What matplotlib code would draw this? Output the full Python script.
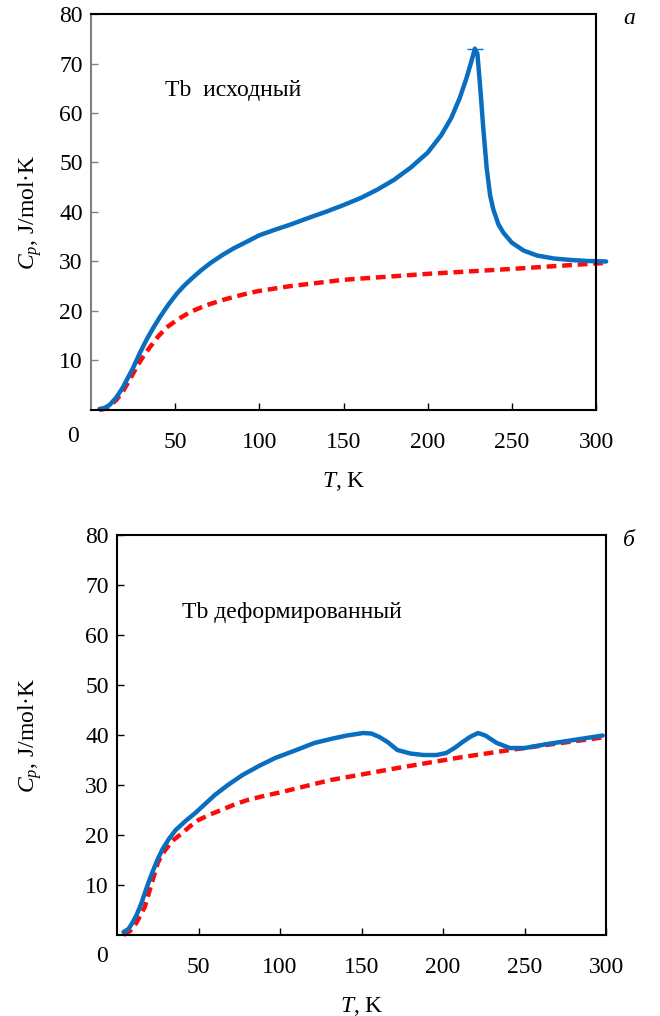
import matplotlib
matplotlib.use("Agg")
import matplotlib.pyplot as plt

plt.rcParams["font.family"] = ["Liberation Serif", "DejaVu Serif"]
plt.rcParams["mathtext.fontset"] = "custom"
plt.rcParams["mathtext.rm"] = "Liberation Serif"
plt.rcParams["mathtext.it"] = "Liberation Serif:italic"

# Panel a: Tb initial
t_a_blue = [5, 8, 11, 15, 19, 25, 29, 33, 37, 41, 46, 51, 55, 59, 65, 71, 78, 85, 92,
            100, 110, 118, 130, 140, 150, 160, 170, 180, 190, 200, 208, 214, 219, 223,
            226, 228, 229.5, 231, 233, 235, 237, 239, 242, 245, 250, 257, 265, 275,
            285, 295, 306]
cp_a_blue = [0.2, 0.4, 1.0, 2.5, 4.6, 8.5, 11.5, 14.2, 16.6, 18.8, 21.3, 23.5, 25.0,
             26.3, 28.1, 29.7, 31.3, 32.7, 33.9, 35.3, 36.5, 37.4, 38.9, 40.1, 41.4,
             42.8, 44.5, 46.5, 49.0, 52.0, 55.5, 59.0, 63.0, 67.0, 70.5, 73.0, 72.0,
             66.0, 57.0, 49.0, 43.5, 40.5, 37.5, 35.8, 33.8, 32.2, 31.2, 30.6, 30.3,
             30.1, 30.0]
t_a_red = [5, 8, 11, 15, 19, 23, 27, 31, 35, 40, 45, 52, 59, 68, 79, 90, 99, 118, 150,
           200, 250, 300, 306]
cp_a_red = [0.0, 0.2, 0.8, 2.0, 3.8, 6.1, 8.6, 10.8, 12.7, 14.9, 16.7, 18.4, 19.8,
            21.1, 22.3, 23.3, 24.0, 25.0, 26.3, 27.5, 28.5, 29.6, 29.7]

# Panel б: Tb deformed
t_b_blue = [4, 7, 9, 12, 15, 18, 21.5, 25, 28, 32, 36, 42, 48, 54, 60, 68, 77, 87, 97,
            110, 121, 131, 141, 151, 156, 161, 166, 172, 180, 188, 196, 202, 207, 212,
            217, 221.5, 226, 233, 241, 250, 264, 280, 298]
cp_b_blue = [0.6, 1.2, 2.2, 4.0, 6.4, 9.3, 12.4, 15.2, 17.2, 19.3, 21.0, 22.8, 24.4,
             26.2, 28.0, 30.0, 32.0, 33.8, 35.4, 37.0, 38.4, 39.2, 39.9, 40.4, 40.3,
             39.6, 38.6, 37.0, 36.3, 36.0, 36.0, 36.4, 37.4, 38.6, 39.7, 40.4, 39.9,
             38.4, 37.4, 37.4, 38.2, 39.0, 39.9]
t_b_red = [4, 8, 12, 17, 21, 25, 28, 31, 35, 40, 45, 50, 57, 64, 72, 80, 90, 101, 121,
           131, 150, 172, 212, 241, 270, 300]
cp_b_red = [0.0, 0.8, 2.5, 5.6, 10.0, 14.4, 16.3, 17.6, 19.1, 20.4, 21.8, 23.0, 24.1,
            25.0, 26.1, 27.0, 27.8, 28.6, 30.2, 31.0, 32.1, 33.4, 35.6, 37.0, 38.3,
            39.6]

yticks = [10, 20, 30, 40, 50, 60, 70, 80]
xticks = [50, 100, 150, 200, 250, 300]

BLUE = "#0A6EC0"
RED = "#FF0A0A"
FS = 17

fig = plt.figure(figsize=(6.6, 10.16), dpi=100)
ax_a = fig.add_axes([0.1379, 0.5965, 0.7652, 0.3897])
ax_b = fig.add_axes([0.1773, 0.0797, 0.7409, 0.3937])


def style_axes(ax, left_color, ylabel_x):
    ax.set_xlim(0, 300)
    ax.set_ylim(0, 80)
    ax.set_xticks(xticks)
    ax.set_yticks(yticks)
    ax.tick_params(direction="in", labelsize=FS, length=5, width=1)
    ax.tick_params(axis="x", pad=16)
    ax.tick_params(axis="y", pad=6, color=left_color)
    for name in ["top", "right", "bottom"]:
        ax.spines[name].set_linewidth(1.5)
        ax.spines[name].set_color("black")
    ax.spines["left"].set_linewidth(1.5)
    ax.spines["left"].set_color(left_color)
    ax.set_xlabel("$\\mathit{T}$, K", fontsize=FS, labelpad=12)
    ax.set_ylabel("$\\mathit{C_p}$, J/mol·K", fontsize=FS)
    ax.yaxis.set_label_coords(ylabel_x, 0.5)


style_axes(ax_a, "#808080", (44 - 91) / 505)
style_axes(ax_b, "black", (44 - 117) / 489)

ax_a.plot(t_a_red, cp_a_red, color=RED, lw=3.2, dashes=(2.2, 1.3), clip_on=False)
peak = cp_a_blue.index(max(cp_a_blue))
ax_a.plot(t_a_blue, cp_a_blue, color=BLUE, lw=3.2, clip_on=False,
          solid_capstyle="round", marker="_", markevery=[peak],
          markersize=11, markeredgewidth=1.0)
ax_b.plot(t_b_red, cp_b_red, color=RED, lw=3.2, dashes=(2.2, 1.3), clip_on=False)
ax_b.plot(t_b_blue, cp_b_blue, color=BLUE, lw=3.2, clip_on=False,
          solid_capstyle="round")

ax_a.text(44, 64.5, "Tb  исходный", fontsize=FS, va="center")
ax_b.text(40, 64.5, "Tb деформированный", fontsize=FS, va="center")

fig.text(73 / 660, 1 - 437 / 1016, "0", fontsize=FS, ha="center", va="center")
fig.text(102 / 660, 1 - 957 / 1016, "0", fontsize=FS, ha="center", va="center")
fig.text(629 / 660, 1 - 18 / 1016, "а", fontsize=FS, style="italic",
         ha="center", va="center")
fig.text(629 / 660, 1 - 540 / 1016, "б", fontsize=FS, style="italic",
         ha="center", va="center")

fig.savefig("out.png", dpi=100)
